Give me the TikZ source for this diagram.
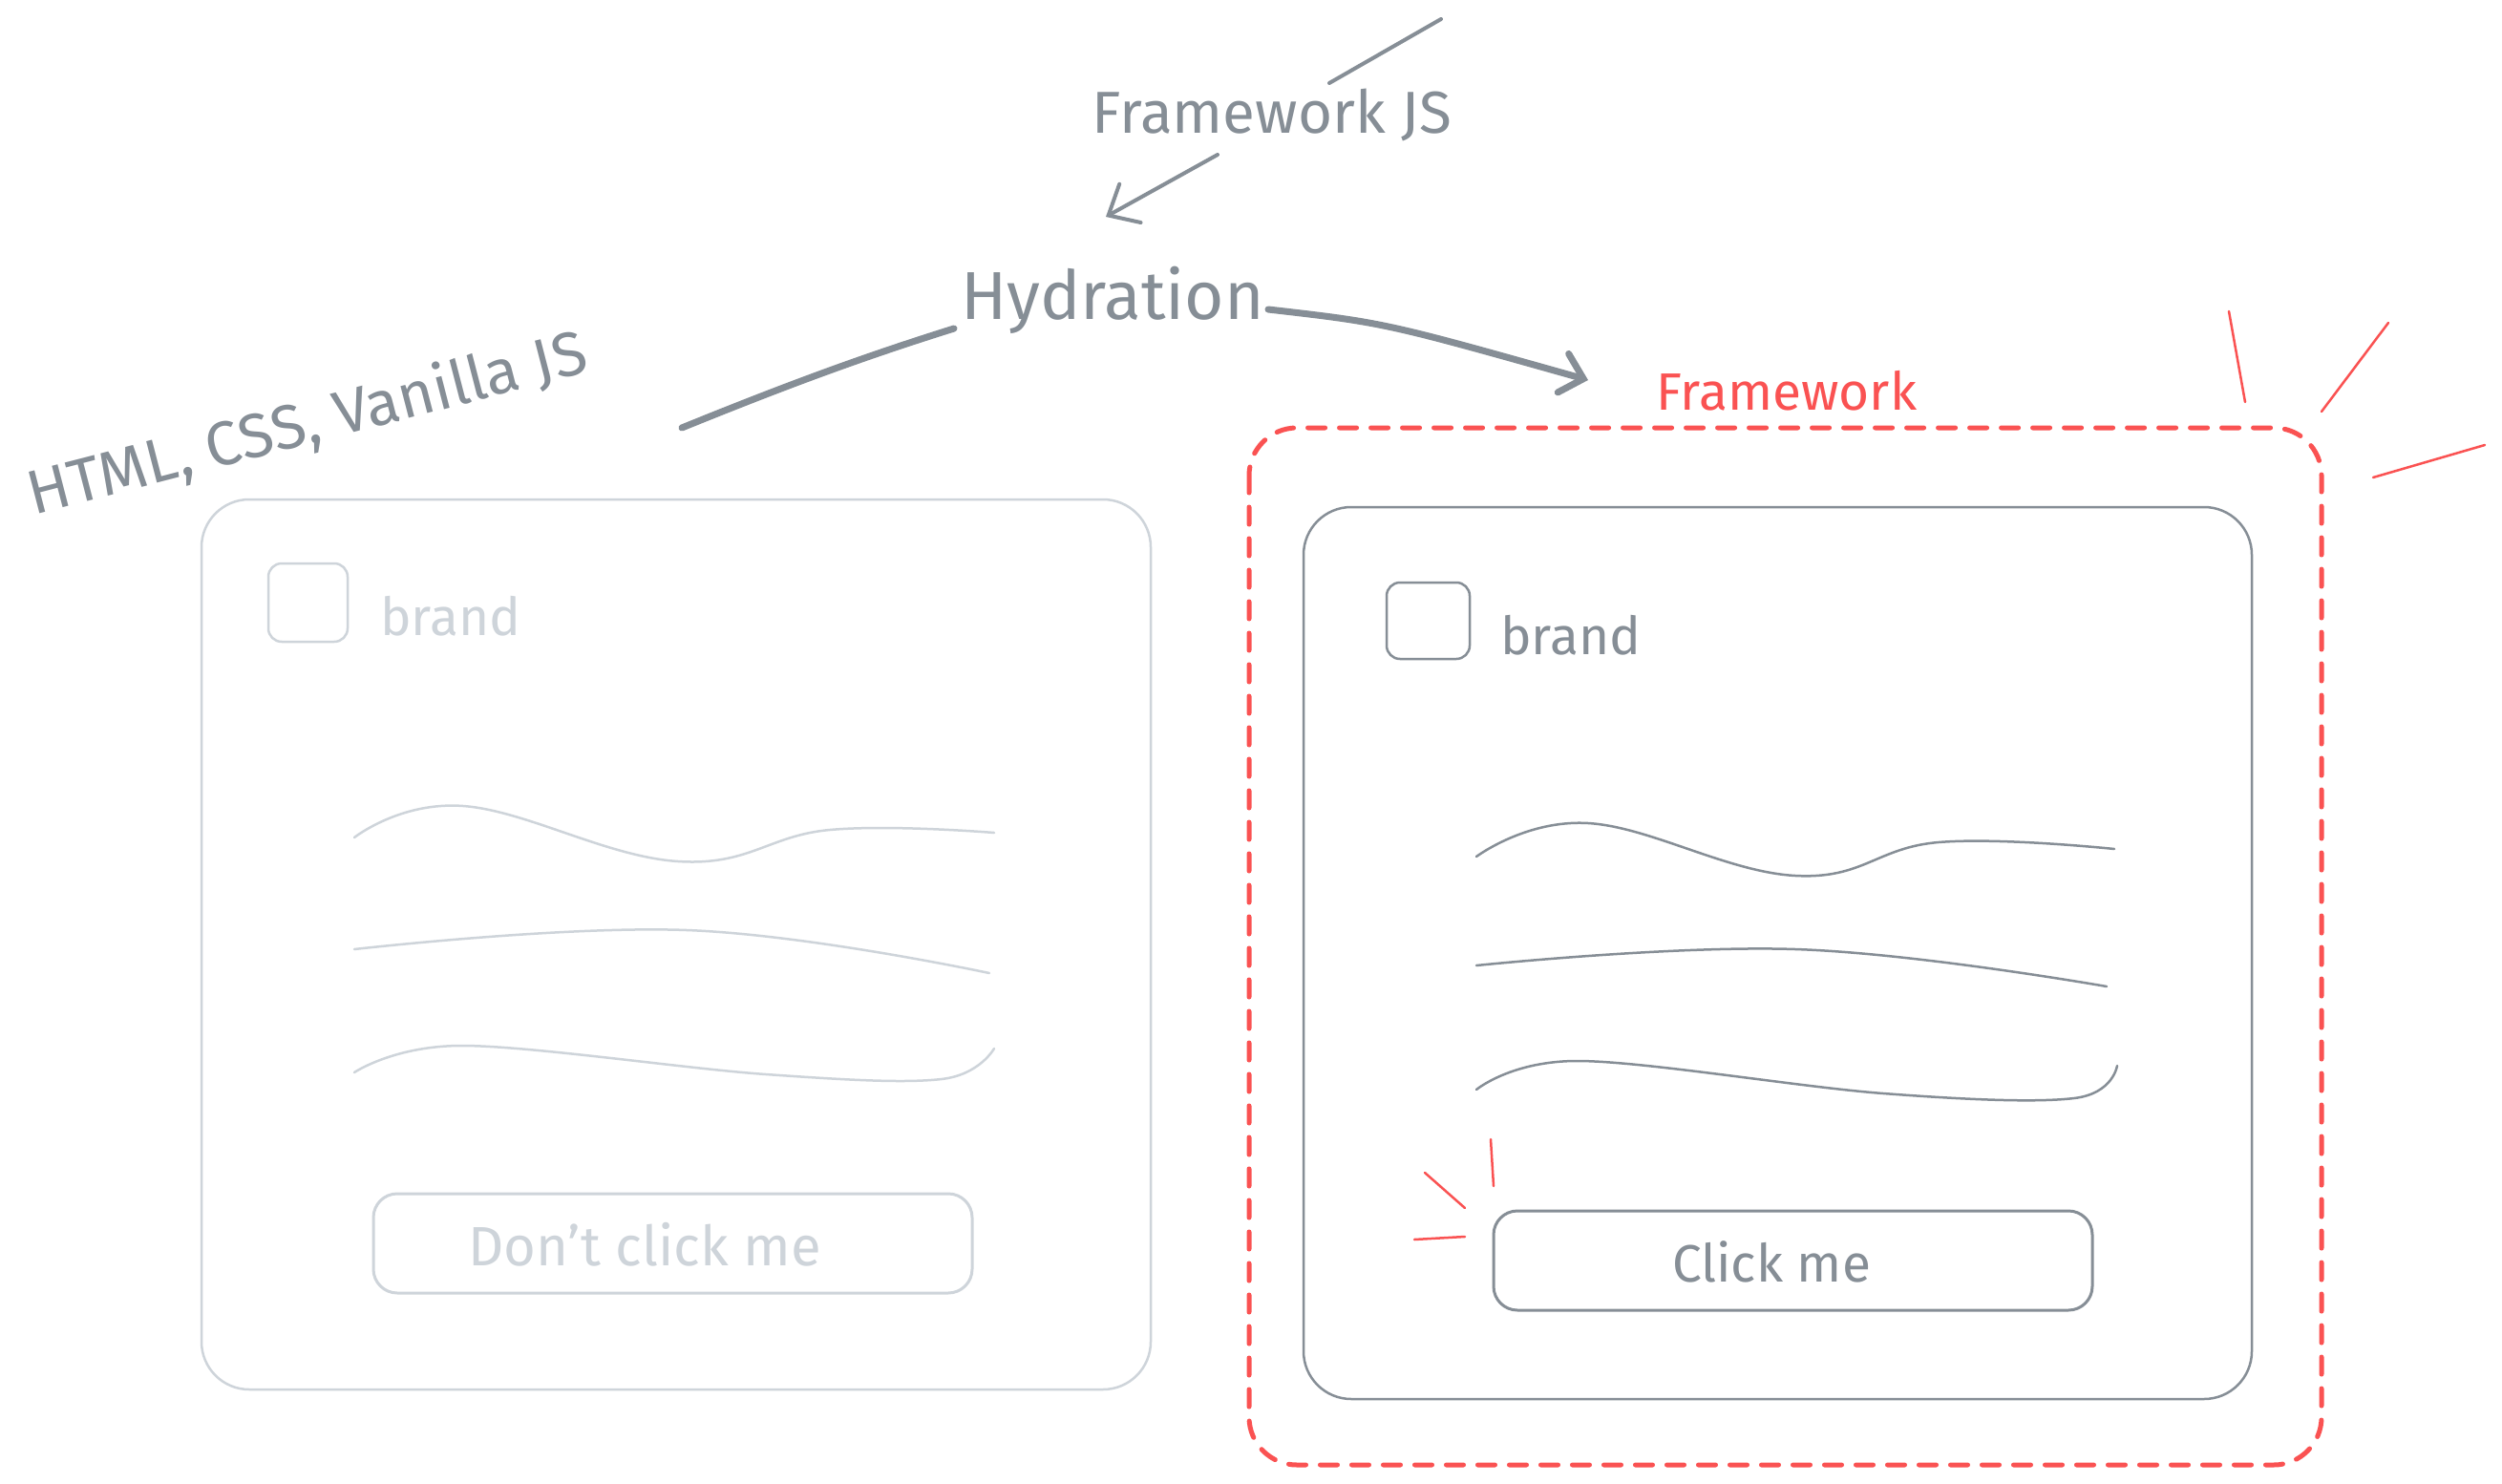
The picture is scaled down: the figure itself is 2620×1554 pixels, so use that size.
\documentclass[tikz,border=0pt]{standalone}
\usepackage{fontspec}
\setmainfont{Fira Sans}
\usetikzlibrary{arrows.meta}
\definecolor{ink}{HTML}{868E96}
\definecolor{faint}{HTML}{CED4DA}
\definecolor{alert}{HTML}{FA5252}
\begin{document}
\begin{tikzpicture}[x=1pt,y=-1pt,line cap=round,line join=round,
  lbl/.style={font=\fontsize{55}{66}\selectfont,inner sep=0pt},
  big/.style={font=\fontsize{71}{84}\selectfont,inner sep=0pt},
  cardbox/.style={draw,rounded corners=50pt,line width=2.5pt,inner sep=0pt},
  logobox/.style={draw,rounded corners=14pt,line width=2.5pt,inner sep=0pt},
  btnbox/.style={draw,rounded corners=25pt,line width=3pt,inner sep=0pt},
  wave/.style={line width=2.5pt},
  spark/.style={alert,line width=2.5pt},
  barb/.style={-{Straight Barb[length=26pt,width=46pt,line cap=round]}}]
\useasboundingbox[fill=white] (0,0) rectangle (2620,1554);

% texts
\node[lbl,font=\fontsize{62}{74}\selectfont,text=ink,anchor=base] (fjs) at (1332,140) {Framework JS};
\node[big,text=ink,anchor=base] (hyd) at (1165,334) {Hydration};
\node[lbl,font=\fontsize{65}{78}\selectfont,text=ink,rotate=14.5] (html) at (322,445) {HTML, CSS, Vanilla JS};
\node[lbl,text=alert,anchor=base] (fw) at (1871,429) {Framework};

% connectors
\coordinate (ftop) at (1509,20);
\coordinate (fbot) at (1392,87);
\coordinate (fja) at (1275,162);
\coordinate (hydtip) at (1158,227);
\coordinate (hydl) at (999,344);
\coordinate (htmlend) at (714,448);
\coordinate (hydr) at (1328,324);
\coordinate (fwtip) at (1663,398);
\draw[ink,line width=4pt] (ftop) -- (fbot);
\draw[ink,line width=4pt,barb] (fja) -- (hydtip);
\draw[ink,line width=7pt] (hydl) .. controls (900,375) and (820,405) .. (htmlend);
\draw[ink,line width=7pt,-{Straight Barb[length=22pt,width=42pt,line cap=round]}] (hydr) .. controls (1450,338) .. (fwtip);

% framework frame
\draw[alert,line width=5pt,dash pattern=on 18pt off 15pt,rounded corners=50pt] (1308,448) rectangle (2431,1534);
\draw[spark] (2334,326) -- (2351,421);
\draw[spark] (2501,338) -- (2431,431);
\draw[spark] (2602,466) -- (2485,500);

% left card (static)
\node[cardbox,faint,minimum width=994pt,minimum height=932pt] (lcard) at (708,989) {};
\node[logobox,faint,minimum width=83pt,minimum height=82pt] (llogo) at (322.5,631) {};
\node[lbl,text=faint,anchor=base west] (lbrand) at (398,665) {brand};
\draw[wave,faint] plot[smooth,tension=0.7] coordinates {(371,877) (485,844) (710,902) (869,869) (1041,872)};
\draw[wave,faint] plot[smooth,tension=0.7] coordinates {(371,994) (719,974) (1036,1019)};
\draw[wave,faint] plot[smooth,tension=0.6] coordinates {(371,1123) (485,1095) (802,1125) (986,1130) (1041,1098)};
\node[btnbox,faint,minimum width=627pt,minimum height=104pt] (lbtn) at (704.5,1302) {};
\node[lbl,font=\fontsize{58}{70}\selectfont,text=faint,anchor=base] (lbtntxt) at (675,1325) {Don't click me};

% right card (hydrated)
\node[cardbox,ink,minimum width=993pt,minimum height=934pt] (rcard) at (1861.5,998) {};
\node[logobox,ink,minimum width=87pt,minimum height=80pt] (rlogo) at (1495.5,650) {};
\node[lbl,text=ink,anchor=base west] (rbrand) at (1571,685) {brand};
\draw[wave,ink] plot[smooth,tension=0.7] coordinates {(1546,897) (1663,862) (1880,917) (2030,882) (2214,889)};
\draw[wave,ink] plot[smooth,tension=0.7] coordinates {(1546,1011) (1880,994) (2206,1033)};
\draw[wave,ink] plot[smooth,tension=0.6] coordinates {(1546,1141) (1654,1111) (1972,1145) (2172,1150) (2217,1116)};
\node[btnbox,ink,minimum width=627pt,minimum height=104pt] (rbtn) at (1877.5,1320) {};
\node[lbl,text=ink,anchor=base] (rbtntxt) at (1855,1342) {Click me};
\draw[spark] (1561,1193) -- (1564,1242);
\draw[spark] (1492,1228) -- (1534,1265);
\draw[spark] (1481,1298) -- (1534,1295);
\end{tikzpicture}
\end{document}
